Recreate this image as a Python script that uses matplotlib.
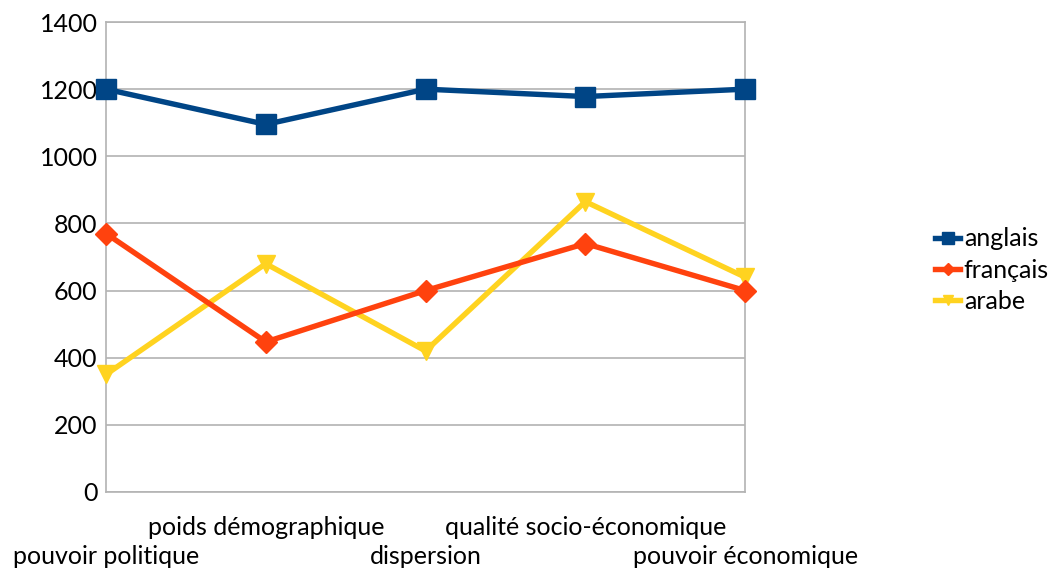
import matplotlib
matplotlib.use("Agg")
import matplotlib.pyplot as plt

categories = ["pouvoir politique", "poids démographique", "dispersion",
              "qualité socio-économique", "pouvoir économique"]
anglais = [1200, 1095, 1200, 1178, 1200]
francais = [770, 447, 600, 740, 600]
arabe = [350, 680, 420, 865, 640]
yticks = [0, 200, 400, 600, 800, 1000, 1200, 1400]

plt.rcParams['font.family'] = ['Lato', 'DejaVu Sans']

fig = plt.figure(figsize=(10.61, 5.72), dpi=100)
ax = fig.add_axes([0.0999, 0.1399, 0.6024, 0.8216])

x = list(range(len(categories)))
ax.plot(x, anglais, color="#004586", lw=3.9, marker="s", ms=14, label="anglais", clip_on=False, zorder=5)
ax.plot(x, francais, color="#ff420e", lw=3.9, marker="D", ms=11, label="français", clip_on=False, zorder=4)
ax.plot(x, arabe, color="#ffd320", lw=3.9, marker="v", ms=13, label="arabe", clip_on=False, zorder=3)

ax.set_xlim(0, 4)
ax.set_ylim(0, 1400)
ax.set_yticks(yticks)
ax.set_yticklabels([str(v) for v in yticks], fontsize=18)
ax.set_xticks(x)
ax.set_xticklabels(categories, fontsize=18)
ax.grid(axis="y", color="#b3b3b3", lw=1.2)
ax.set_axisbelow(True)
for s in ax.spines.values():
    s.set_color("#b3b3b3")
    s.set_linewidth(1.2)
ax.tick_params(axis="both", length=0)
ax.tick_params(axis="y", pad=6)
for i, t in enumerate(ax.xaxis.get_major_ticks()):
    t.set_pad(38 if i % 2 == 0 else 17)

leg = ax.legend(loc="center left", bbox_to_anchor=(1.262, 0.472), frameon=False,
                fontsize=18, handlelength=1.0, handletextpad=0.15,
                labelspacing=0.33, markerscale=0.6)
fig.savefig("out.png", dpi=100)
